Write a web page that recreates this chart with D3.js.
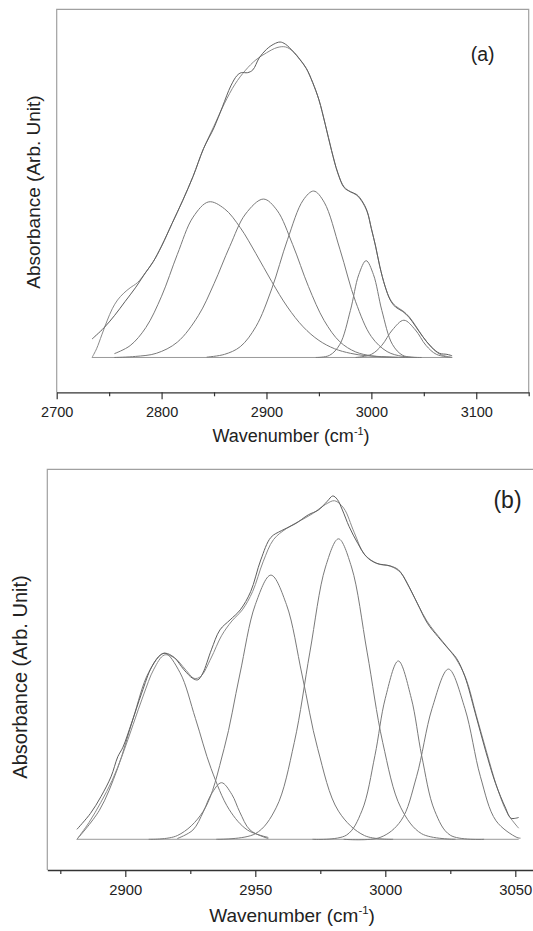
<!DOCTYPE html>
<html>
<head>
<meta charset="utf-8">
<script src="https://cdn.jsdelivr.net/npm/d3@7/dist/d3.min.js"></script>
<style>
  body { margin: 0; background: #fff; }
  svg { display: block; }
  text { font-family: "Liberation Sans", Arial, sans-serif; fill: #222; }
</style>
</head>
<body>
<svg id="chart" width="533" height="931"></svg>
<script>
// IR band deconvolution, two panels. [wavenumber, absorbance (arb.)]

// ---- panel (a) ----
const topMajorTicks = [2700, 2800, 2900, 3000, 3100];
const topMinorTicks = [2750, 2850, 2950, 3050, 3150];
const topBaseline = [[2733.7, 0], [3077, 0]];

const topMeasured = [
  [2733.7,0.053],[2745,0.085],[2755,0.12],[2765,0.16],[2775,0.2],[2785,0.245],[2792,0.275],
  [2800,0.32],[2810,0.385],[2820,0.45],[2830,0.52],[2840,0.6],[2850,0.66],[2858,0.72],
  [2866,0.78],[2872,0.81],[2876,0.818],[2882,0.818],[2887,0.826],[2893,0.86],[2900,0.885],
  [2907,0.9],[2913,0.906],[2918,0.9],[2925,0.88],[2932,0.855],[2938,0.83],[2944,0.79],
  [2950,0.74],[2956,0.67],[2962,0.595],[2968,0.53],[2974,0.488],[2980,0.476],[2986,0.468],
  [2991,0.45],[2996,0.42],[3000,0.37],[3004,0.32],[3008,0.262],[3013,0.205],[3018,0.165],
  [3023,0.145],[3030,0.132],[3036,0.115],[3042,0.09],[3049,0.06],[3057,0.031],[3065,0.012],
  [3072,0.009],[3077,0.005]
];
const topFitted = [
  [2733.7,0],[2738,0.025],[2743,0.065],[2748,0.105],[2753,0.14],[2758,0.165],[2764,0.185],
  [2770,0.2],[2777,0.215],[2785,0.245],[2792,0.275],[2800,0.32],[2810,0.385],[2820,0.45],
  [2830,0.52],[2840,0.6],[2850,0.665],[2860,0.73],[2870,0.785],[2880,0.825],[2890,0.855],
  [2900,0.875],[2910,0.89],[2918,0.892],[2925,0.88],[2932,0.856],[2938,0.83],[2944,0.79],
  [2950,0.74],[2956,0.67],[2962,0.595],[2968,0.53],[2974,0.49],[2980,0.476],[2986,0.466],
  [2991,0.448],[2996,0.418],[3000,0.37],[3004,0.32],[3008,0.262],[3013,0.205],[3018,0.167],
  [3023,0.148],[3030,0.134],[3036,0.117],[3042,0.092],[3049,0.06],[3057,0.03],[3065,0.01],
  [3072,0.003],[3077,0]
];
const topPeak2845 = [
  [2755,0.011],[2770,0.034],[2785,0.086],[2800,0.176],[2815,0.296],[2830,0.403],[2845,0.447],
  [2860,0.427],[2875,0.373],[2890,0.298],[2905,0.218],[2920,0.145],[2935,0.088],[2950,0.049],
  [2965,0.025],[2980,0.012],[2995,0.005],[3010,0.002],[3025,0]
];
const topPeak2897 = [
  [2755,0],[2775,0.003],[2795,0.012],[2815,0.044],[2835,0.12],[2850,0.212],[2865,0.319],
  [2880,0.412],[2897,0.455],[2910,0.423],[2925,0.324],[2940,0.204],[2955,0.106],[2970,0.045],
  [2985,0.016],[3000,0.005],[3020,0.001],[3040,0]
];
const topPeak2945 = [
  [2843,0.001],[2860,0.009],[2875,0.031],[2890,0.089],[2905,0.197],[2920,0.338],[2935,0.452],
  [2945,0.478],[2955,0.446],[2970,0.311],[2985,0.16],[3000,0.06],[3015,0.017],[3030,0.003],[3048,0]
];
const topPeak2995 = [
  [2947,0],[2960,0.006],[2970,0.038],[2980,0.135],[2988,0.238],[2995,0.278],[3002,0.238],
  [3010,0.135],[3020,0.038],[3030,0.006],[3043,0]
];
const topPeak3031 = [
  [2985,0],[3000,0.009],[3010,0.035],[3020,0.079],[3031,0.107],[3042,0.079],[3052,0.035],
  [3062,0.009],[3077,0]
];

// ---- panel (b) ----
const botMajorTicks = [2900, 2950, 3000, 3050];
const botMinorTicks = [2875, 2925, 2975, 3025];
const botBaseline = [[2881.4, 0], [3051.3, 0]];

const botMeasured = [
  [2881.4,0.027],[2886.6,0.07],[2890.6,0.115],[2894.5,0.169],[2897.1,0.223],[2899.1,0.249],
  [2902.4,0.314],[2906.3,0.395],[2910.2,0.467],[2913.5,0.498],[2915.4,0.503],[2918.7,0.492],
  [2922.6,0.458],[2925.9,0.435],[2927.9,0.431],[2929.8,0.449],[2933.1,0.512],[2936.4,0.566],
  [2940.3,0.593],[2944.2,0.62],[2948.2,0.669],[2952.1,0.755],[2956,0.816],[2960,0.834],
  [2965.2,0.852],[2970.4,0.877],[2974.3,0.89],[2977.6,0.913],[2979.8,0.928],[2981.5,0.919],
  [2983.5,0.89],[2986.1,0.845],[2989.4,0.8],[2992.7,0.764],[2996.6,0.746],[3001.8,0.739],
  [3005.1,0.728],[3008.4,0.692],[3012.3,0.638],[3016.2,0.584],[3020.2,0.548],[3024.1,0.516],
  [3027.4,0.489],[3030.6,0.44],[3034.6,0.341],[3038.5,0.241],[3042.4,0.151],[3046.3,0.084],
  [3048.3,0.057],[3051.3,0.059]
];
const botFitted = [
  [2881.4,0],[2886,0.045],[2890.6,0.1],[2895,0.16],[2899,0.23],[2903,0.31],[2907,0.39],
  [2911,0.46],[2915,0.498],[2919,0.49],[2923,0.46],[2926.5,0.435],[2929,0.44],[2933,0.49],
  [2937,0.55],[2941,0.59],[2945,0.62],[2949,0.67],[2953,0.75],[2957,0.81],[2962,0.84],
  [2967,0.86],[2972,0.88],[2977,0.905],[2980.5,0.915],[2984,0.895],[2988,0.83],[2992,0.77],
  [2997,0.745],[3002,0.738],[3006,0.72],[3010,0.67],[3016,0.59],[3022,0.535],[3027,0.49],
  [3031,0.435],[3035,0.335],[3039,0.235],[3043,0.14],[3047,0.07],[3051.3,0.03]
];
const botPeak2915 = [
  [2881.4,0],[2890,0.078],[2897,0.191],[2903,0.326],[2909,0.451],[2915,0.503],[2921,0.451],
  [2927,0.326],[2933,0.191],[2940,0.08],[2947,0.025],[2955,0.005]
];
const botPeak2937 = [
  [2920,0.002],[2926,0.025],[2930,0.074],[2933,0.121],[2937,0.153],[2941,0.121],[2944,0.074],
  [2948,0.025],[2955,0.002]
];
const botPeak2956 = [
  [2909,0],[2920,0.01],[2930,0.076],[2938,0.245],[2944,0.444],[2950,0.634],[2956,0.714],
  [2962,0.634],[2968,0.444],[2974,0.245],[2982,0.076],[2992,0.01],[3003,0]
];
const botPeak2982 = [
  [2935,0],[2950,0.015],[2958,0.085],[2965,0.262],[2971,0.506],[2977,0.736],[2982,0.812],
  [2987,0.736],[2993,0.506],[2999,0.262],[3006,0.085],[3014,0.015],[3027,0]
];
const botPeak3005 = [
  [2972,0],[2985,0.011],[2991,0.077],[2996,0.226],[3000,0.381],[3005,0.482],[3010,0.381],
  [3014,0.226],[3019,0.077],[3025,0.011],[3038,0]
];
const botPeak3024 = [
  [2984,0],[2998,0.005],[3006,0.05],[3012,0.169],[3018,0.354],[3024.3,0.46],[3030.6,0.354],
  [3036.6,0.169],[3042.6,0.05],[3050.6,0.005],[3052,0.003]
];

const svg = d3.select("#chart");

function drawPanel(cfg){
  const x = d3.scaleLinear().domain(cfg.xDomain).range([cfg.left, cfg.right]);
  const y = d3.scaleLinear().domain(cfg.yDomain).range([cfg.bottom, cfg.top]);
  const g = svg.append("g");

  // light frame on left / top / right
  g.append("path")
    .attr("d", `M${cfg.left},${cfg.bottom}V${cfg.top}H${cfg.right}V${cfg.bottom}`)
    .attr("fill", "none")
    .attr("stroke", "#a0a0a0")
    .attr("stroke-width", 1.2);

  // minor ticks, then major ticks with labels
  g.append("g")
    .attr("transform", `translate(0,${cfg.bottom})`)
    .call(d3.axisBottom(x).tickValues(cfg.minor).tickSize(4).tickSizeOuter(0).tickFormat(""))
    .call(a => a.select(".domain").remove())
    .selectAll("line").attr("stroke", "#333").attr("stroke-width", 1.2);

  const ax = g.append("g")
    .attr("transform", `translate(0,${cfg.bottom})`)
    .call(d3.axisBottom(x).tickValues(cfg.major).tickSize(7).tickSizeOuter(0)
      .tickPadding(cfg.tickPad).tickFormat(d3.format("d")));
  ax.select(".domain").attr("stroke", "#333").attr("stroke-width", 1.3);
  ax.selectAll(".tick line").attr("stroke", "#333").attr("stroke-width", 1.2);
  ax.selectAll(".tick text")
    .attr("fill", "#222")
    .style("font-family", '"Liberation Sans", Arial, sans-serif')
    .style("font-size", cfg.tickFont + "px");

  // curves
  const line = d3.line()
    .x(d => x(d[0]))
    .y(d => y(d[1]))
    .curve(d3.curveCatmullRom.alpha(0.5));

  cfg.curves.forEach(c => {
    g.append("path")
      .attr("d", line(c.data))
      .attr("fill", "none")
      .attr("stroke", c.color)
      .attr("stroke-width", c.width || 1);
  });

  // titles
  const xt = g.append("text")
    .attr("x", cfg.xTitle[0]).attr("y", cfg.xTitle[1])
    .attr("text-anchor", "middle")
    .style("font-size", cfg.xTitleFont + "px");
  xt.append("tspan").text("Wavenumber (cm");
  xt.append("tspan").attr("dy", -cfg.xTitleFont * 0.4).style("font-size", (cfg.xTitleFont * 0.6) + "px").text("-1");
  xt.append("tspan").attr("dy", cfg.xTitleFont * 0.4).text(")");

  g.append("text")
    .attr("transform", `translate(${cfg.yTitle[0]},${cfg.yTitle[1]}) rotate(-90)`)
    .attr("text-anchor", "middle")
    .style("font-size", cfg.yTitleFont + "px")
    .text("Absorbance (Arb. Unit)");

  g.append("text")
    .attr("x", cfg.tag[0]).attr("y", cfg.tag[1])
    .attr("text-anchor", "middle")
    .style("font-size", cfg.tagFont + "px")
    .text(cfg.tagText);
}

const COMP = "#7a7a7a";
const ENV = "#5e5e5e";
const BASE = "#9a9a9a";

drawPanel({
  left: 56.7, right: 528.7, top: 9.3, bottom: 392.3,
  xDomain: [2700, 3150], yDomain: [-0.1, 1.0],
  major: topMajorTicks, minor: topMinorTicks, tickPad: 7, tickFont: 14.5,
  xTitle: [291, 442], xTitleFont: 18,
  yTitle: [40, 192], yTitleFont: 19,
  tag: [482.7, 61], tagFont: 19.5, tagText: "(a)",
  curves: [
    { data: topBaseline, color: BASE },
    { data: topPeak2845, color: COMP },
    { data: topPeak2897, color: COMP },
    { data: topPeak2945, color: COMP },
    { data: topPeak2995, color: COMP },
    { data: topPeak3031, color: COMP },
    { data: topFitted, color: "#8a8a8a" },
    { data: topMeasured, color: ENV }
  ]
});

drawPanel({
  left: 47.3, right: 567.3, top: 469.3, bottom: 870,
  xDomain: [2870, 3070], yDomain: [-0.083, 1.0],
  major: botMajorTicks, minor: botMinorTicks, tickPad: 7.5, tickFont: 14.8,
  xTitle: [292, 922], xTitleFont: 19,
  yTitle: [27, 677], yTitleFont: 20,
  tag: [507.5, 508], tagFont: 23, tagText: "(b)",
  curves: [
    { data: botBaseline, color: BASE },
    { data: botPeak2915, color: COMP },
    { data: botPeak2937, color: COMP },
    { data: botPeak2956, color: COMP },
    { data: botPeak2982, color: COMP },
    { data: botPeak3005, color: COMP },
    { data: botPeak3024, color: COMP },
    { data: botFitted, color: "#8a8a8a" },
    { data: botMeasured, color: ENV }
  ]
});
</script>
</body>
</html>
